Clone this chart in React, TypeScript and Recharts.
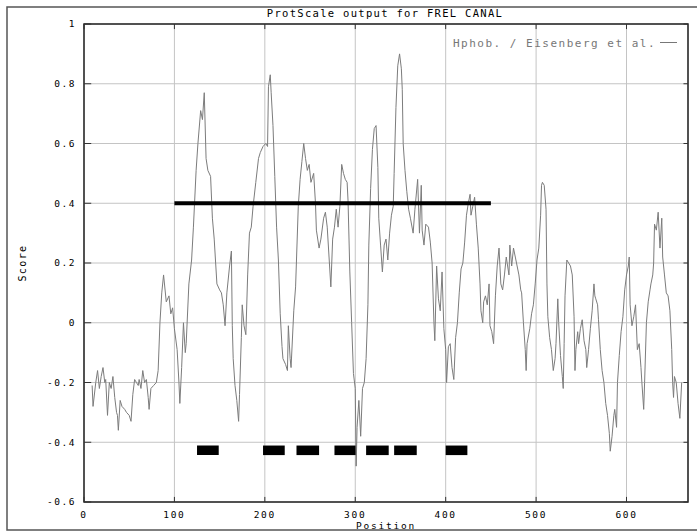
import React from "react";
import {
  ComposedChart,
  Line,
  XAxis,
  YAxis,
  CartesianGrid,
  ReferenceArea,
  ReferenceLine,
} from "recharts";

// hydrophobicity profile
const positions = [
  9, 10, 13, 15, 17, 19, 21, 23, 24, 26, 28, 30, 32, 34, 36, 37, 38, 40, 42, 45,
  47, 50, 52, 54, 56, 58, 60, 61, 63, 65, 67, 69, 71, 72, 74, 77, 80, 82, 84, 86,
  88, 91, 94, 96, 98, 100, 103, 105, 106, 108, 110, 112, 113, 116, 119, 121, 124, 126, 129, 131,
  133, 135, 137, 140, 142, 144, 147, 150, 152, 154, 156, 158, 161, 163, 164, 165, 167, 169, 171, 172,
  174, 175, 177, 179, 181, 183, 185, 187, 190, 193, 195, 198, 201, 203, 204, 206, 207, 209, 211, 213,
  215, 217, 219, 220, 223, 225, 226, 228, 229, 232, 234, 235, 237, 239, 241, 243, 245, 247, 249, 251,
  254, 256, 257, 260, 262, 265, 267, 269, 271, 273, 275, 277, 279, 281, 283, 285, 287, 289, 291, 292,
  294, 296, 298, 300, 301, 302, 304, 306, 308, 310, 312, 314, 315, 317, 319, 321, 323, 325, 326, 328,
  330, 332, 334, 336, 338, 340, 342, 343, 345, 347, 349, 351, 352, 353, 355, 357, 359, 361, 364, 366,
  369, 371, 373, 374, 376, 378, 381, 383, 385, 387, 388, 390, 392, 394, 396, 398, 400, 401, 403, 405,
  407, 409, 411, 413, 415, 417, 419, 421, 423, 425, 427, 428, 430, 432, 434, 436, 438, 439, 441, 442,
  444, 446, 448, 449, 451, 453, 455, 457, 459, 461, 463, 465, 467, 470, 471, 473, 475, 477, 479, 481,
  483, 484, 486, 488, 489, 490, 493, 495, 497, 499, 501, 503, 505, 506, 507, 509, 511, 512, 513, 515,
  517, 519, 521, 522, 524, 525, 527, 529, 530, 531, 532, 534, 536, 538, 540, 542, 543, 544, 546, 547,
  549, 551, 553, 555, 556, 558, 560, 562, 564, 565, 566, 568, 569, 571, 573, 575, 577, 579, 581, 582,
  584, 586, 587, 589, 590, 592, 594, 596, 598, 600, 602, 603, 604, 606, 608, 610, 612, 614, 616, 617,
  619, 620, 622, 624, 626, 627, 629, 630, 631, 633, 635, 637, 639, 640, 642, 644, 646, 648, 650, 651,
  652, 653, 655, 657, 659, 661,
];

const scores = [
  -0.21, -0.28, -0.2, -0.16, -0.22, -0.18, -0.15, -0.2, -0.19, -0.31, -0.2, -0.22, -0.18, -0.25, -0.3, -0.31, -0.36, -0.26, -0.28, -0.29,
  -0.3, -0.31, -0.33, -0.24, -0.19, -0.2, -0.21, -0.19, -0.22, -0.16, -0.2, -0.19, -0.25, -0.29, -0.22, -0.21, -0.2, -0.16, 0.0, 0.1,
  0.16, 0.07, 0.09, 0.03, 0.05, -0.02, -0.09, -0.2, -0.27, -0.15, 0.0, -0.1, -0.07, 0.13, 0.21, 0.32, 0.51, 0.6, 0.71, 0.68,
  0.77, 0.55, 0.51, 0.49, 0.35, 0.28, 0.13, 0.11, 0.1, 0.06, -0.01, 0.1, 0.19, 0.24, -0.01, -0.12, -0.21, -0.26, -0.33, -0.24,
  -0.05, 0.06, -0.01, -0.04, 0.16, 0.3, 0.32, 0.39, 0.47, 0.55, 0.57, 0.59, 0.6, 0.59, 0.79, 0.83, 0.77, 0.66, 0.49, 0.32,
  0.21, 0.03, -0.08, -0.12, -0.14, -0.16, -0.01, -0.12, -0.15, 0.04, 0.12, 0.21, 0.39, 0.48, 0.54, 0.6, 0.55, 0.51, 0.53, 0.47,
  0.5, 0.4, 0.31, 0.25, 0.28, 0.35, 0.37, 0.32, 0.22, 0.12, 0.28, 0.32, 0.38, 0.32, 0.39, 0.53, 0.5, 0.48, 0.47, 0.41,
  0.17, 0.0, -0.17, -0.22, -0.48, -0.35, -0.26, -0.38, -0.22, -0.2, -0.12, 0.06, 0.26, 0.45, 0.58, 0.65, 0.66, 0.52, 0.35, 0.26,
  0.17, 0.26, 0.28, 0.21, 0.3, 0.36, 0.39, 0.5, 0.72, 0.86, 0.9, 0.85, 0.78, 0.6, 0.51, 0.44, 0.38, 0.35, 0.3, 0.38,
  0.48, 0.3, 0.46, 0.31, 0.26, 0.33, 0.32, 0.27, 0.2, 0.0, -0.06, 0.19, 0.08, 0.04, 0.17, -0.02, -0.09, -0.2, -0.08, -0.07,
  -0.15, -0.19, -0.05, 0.0, 0.1, 0.18, 0.2, 0.27, 0.36, 0.4, 0.43, 0.36, 0.39, 0.42, 0.33, 0.25, 0.13, 0.04, 0.0, 0.07,
  0.09, 0.06, 0.13, -0.01, -0.03, -0.07, 0.09, 0.19, 0.25, 0.13, 0.11, 0.16, 0.22, 0.16, 0.26, 0.19, 0.25, 0.22, 0.19, 0.16,
  0.11, 0.1, 0.0, -0.09, -0.16, -0.07, -0.02, 0.03, 0.06, 0.13, 0.21, 0.25, 0.36, 0.46, 0.47, 0.46, 0.38, 0.13, 0.02, -0.05,
  -0.09, -0.16, -0.12, -0.07, 0.08, 0.0, -0.11, -0.18, -0.22, -0.07, 0.09, 0.21, 0.2, 0.19, 0.16, 0.02, -0.16, -0.09, -0.03, -0.07,
  -0.02, 0.01, -0.06, -0.09, -0.15, -0.09, -0.02, 0.04, 0.13, 0.09, 0.08, 0.06, 0.01, -0.09, -0.16, -0.2, -0.27, -0.31, -0.37, -0.43,
  -0.38, -0.31, -0.29, -0.35, -0.2, -0.11, -0.03, 0.02, 0.11, 0.16, 0.19, 0.22, 0.06, -0.01, 0.02, 0.06, -0.09, -0.07, -0.15, -0.2,
  -0.29, -0.2, 0.0, 0.07, 0.11, 0.13, 0.16, 0.2, 0.33, 0.31, 0.37, 0.25, 0.35, 0.22, 0.16, 0.1, 0.09, 0.04, -0.09, -0.2,
  -0.25, -0.18, -0.2, -0.27, -0.32, -0.2,
];

// predicted segments (black boxes) and cutoff line
const segStarts = [125, 198, 235, 277, 312, 343, 400];
const segEnds = [149, 222, 260, 301, 337, 368, 424];
const segLevel = -0.427;
const cutoffFrom = 100;
const cutoffTo = 450;
const cutoffValue = 0.4;

const xTicks = [0, 100, 200, 300, 400, 500, 600];
const yTicks = [-0.6, -0.4, -0.2, 0, 0.2, 0.4, 0.6, 0.8, 1];
const xMax = 668;

const data = positions.map((p, i) => ({ pos: p, score: scores[i] }));

const mono = "'DejaVu Sans Mono', monospace";

export default function App() {
  return (
    <div style={{ position: "absolute", left: 0, top: 0, width: 697, height: 532, background: "#fff" }}>
      <ComposedChart
        width={697}
        height={532}
        data={data}
        margin={{ top: 24, right: 9, bottom: 0, left: 24 }}
      >
        <CartesianGrid stroke="#c4c4c4" />
        <XAxis
          type="number"
          dataKey="pos"
          domain={[0, xMax]}
          ticks={xTicks}
          height={30}
          tickSize={0}
          tickMargin={9}
          tickLine={false}
          axisLine={false}
          tick={{ fontSize: 9.5, fontFamily: mono, fill: "#000", letterSpacing: 1.7 }}
          allowDataOverflow
        />
        <YAxis
          type="number"
          domain={[-0.6, 1]}
          ticks={yTicks}
          width={60}
          tickSize={0}
          tickMargin={8}
          tickLine={false}
          axisLine={false}
          tick={{ fontSize: 9.5, fontFamily: mono, fill: "#000", letterSpacing: 1.5 }}
          allowDataOverflow
        />
        {/* inward tick marks */}
        {yTicks.map((v) => (
          <ReferenceLine key={"l" + v} segment={[{ x: 0, y: v }, { x: 8, y: v }]} stroke="#333" />
        ))}
        {yTicks.map((v) => (
          <ReferenceLine key={"r" + v} segment={[{ x: xMax - 5, y: v }, { x: xMax, y: v }]} stroke="#333" />
        ))}
        {xTicks.map((v) => (
          <ReferenceLine key={"t" + v} segment={[{ x: v, y: 1 }, { x: v, y: 0.983 }]} stroke="#333" />
        ))}
        {xTicks.map((v) => (
          <ReferenceLine key={"b" + v} segment={[{ x: v, y: -0.6 }, { x: v, y: -0.583 }]} stroke="#333" />
        ))}
        <ReferenceArea
          x1={0}
          x2={xMax}
          y1={-0.6}
          y2={1}
          fill="none"
          fillOpacity={0}
          stroke="#222"
          strokeWidth={1.5}
        />
        {segStarts.map((s, i) => (
          <ReferenceArea
            key={"seg" + i}
            x1={s}
            x2={segEnds[i]}
            y1={segLevel - 0.016}
            y2={segLevel + 0.016}
            fill="#000"
            fillOpacity={1}
            stroke="none"
          />
        ))}
        <Line
          type="linear"
          dataKey="score"
          stroke="#7c7c7c"
          strokeWidth={1}
          dot={false}
          isAnimationActive={false}
        />
        <ReferenceLine
          segment={[{ x: cutoffFrom, y: cutoffValue }, { x: cutoffTo, y: cutoffValue }]}
          stroke="#000"
          strokeWidth={4}
        />
      </ComposedChart>
      <svg
        width={697}
        height={532}
        style={{ position: "absolute", left: 0, top: 0, pointerEvents: "none" }}
      >
        <rect x={7} y={7} width={700} height={523} fill="none" stroke="#555" strokeWidth={1.5} />
        <text x={385} y={17} textAnchor="middle" fontFamily={mono} fontSize={10.5} letterSpacing={1.3} fill="#000">
          ProtScale output for FREL CANAL
        </text>
        <text x={453} y={47} fontFamily={mono} fontSize={11} letterSpacing={1.5} fill="#777">
          Hphob. / Eisenberg et al.
        </text>
        <line x1={660} y1={42.5} x2={677} y2={42.5} stroke="#777" strokeWidth={1} />
        <text x={386} y={528.5} textAnchor="middle" fontFamily={mono} fontSize={9.5} letterSpacing={1.8} fill="#000">
          Position
        </text>
        <text
          x={26}
          y={263}
          textAnchor="middle"
          fontFamily={mono}
          fontSize={10}
          letterSpacing={1.4}
          fill="#000"
          transform="rotate(-90 26 263)"
        >
          Score
        </text>
      </svg>
    </div>
  );
}
